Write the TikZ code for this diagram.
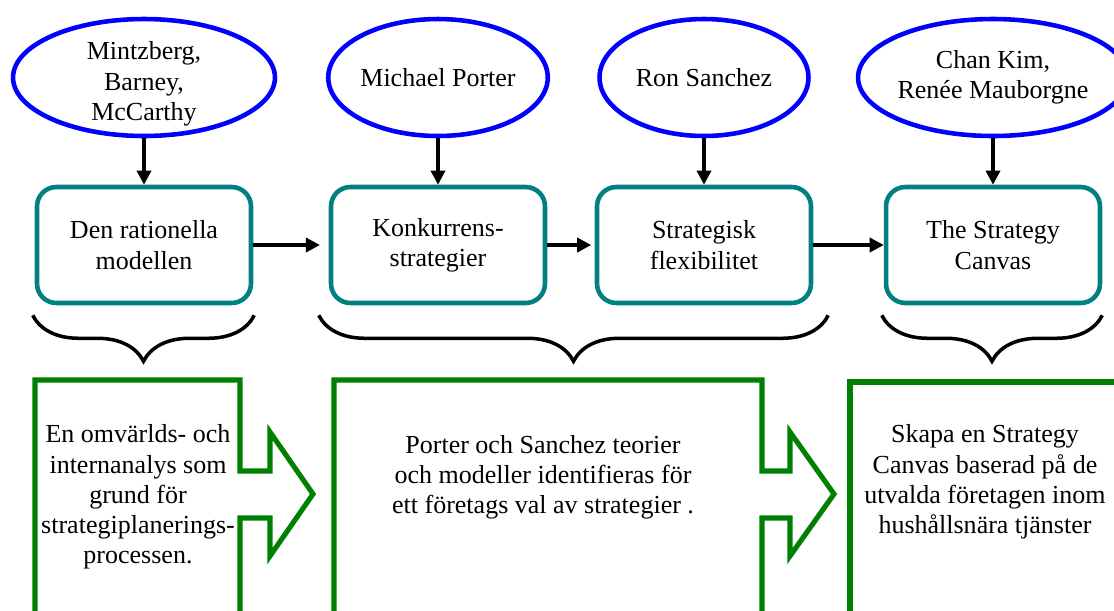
\documentclass[tikz,border=0pt]{standalone}
\usepackage{fontspec}
\setmainfont{Liberation Serif}
\usepackage{tikz}
\usetikzlibrary{shapes,arrows.meta,decorations.pathreplacing}

\begin{document}
\begin{tikzpicture}[x=0.02cm,y=-0.02cm]
    \tikzstyle{every node}=[font=\fontsize{14.8}{17.2}\selectfont, align=center]
    \tikzstyle{author}=[ellipse, draw=blue, line width=2.6pt, minimum width=5.24cm, minimum height=2.34cm, inner sep=0pt]
    \tikzstyle{model}=[rectangle, rounded corners=11pt, draw=teal, line width=2.6pt, minimum width=4.28cm, minimum height=2.32cm]
    \tikzstyle{goal}=[draw=green!50!black, line width=2.9pt]
    \tikzstyle{link}=[-{Triangle[length=8pt,width=8pt]}, line width=1.9pt]
    \tikzstyle{group}=[decorate, decoration={brace, mirror, amplitude=0.92cm}, line width=2pt]
    \useasboundingbox (0,0) rectangle (1114,610);
    \clip (0,0) rectangle (1114,610);

    \node[author, label={[name=mintzbergtext, yshift=-3.6pt]center:Mintzberg,\\Barney,\\McCarthy}] (mintzberg) at (144,77.5) {};
    \node[author, minimum width=4.16cm] (porter) at (438,77.5) {Michael Porter};
    \node[author, minimum width=4.18cm] (sanchez) at (704,77.5) {Ron Sanchez};
    \node[author] (kim) at (993,77.5) {Chan Kim,\\Renée Mauborgne};

    \node[model] (rational) at (144,245) {Den rationella\\modellen};
    \node[model] (competitive) at (438,245) {Konkurrens-\\strategier};
    \node[model] (flexibility) at (704,245) {Strategisk\\flexibilitet};
    \node[model] (canvas) at (993,245) {The Strategy\\Canvas};

    \draw[link] (mintzberg) -- (rational);
    \draw[link] (porter) -- (competitive);
    \draw[link] (sanchez) -- (flexibility);
    \draw[link] (kim) -- (canvas);
    \draw[link, shorten >=5pt] (rational) -- (competitive);
    \draw[link, shorten >=2pt] (competitive) -- (flexibility);
    \draw[link] (flexibility) -- (canvas);

    \draw[group] ([shift={(-2,10)}]rational.south west) -- ([shift={(1,10)}]rational.south east);
    \draw[group] ([shift={(-10,10)}]competitive.south west) -- ([shift={(15,10)}]flexibility.south east);
    \draw[group] ([shift={(-2,10)}]canvas.south west) -- ([shift={(0,10)}]canvas.south east);

    \draw[goal] (35,625) -- (35,380) -- (240,380) -- (240,471) -- (270,471) -- (270,432)
      -- (313,494) -- (270,556) -- (270,518) -- (240,518) -- (240,625) -- cycle;
    \draw[goal] (334,625) -- (334,380) -- (762,380) -- (762,471) -- (790,471) -- (790,432)
      -- (834,494) -- (790,556) -- (790,518) -- (762,518) -- (762,625) -- cycle;
    \draw[goal] (850,625) -- (850,382) -- (1130,382) -- (1130,625) -- cycle;

    \node (analysis) at (138,497) {En omvärlds- och\\internanalys som\\grund för\\strategiplanerings-\\processen.};
    \node (theories) at (543,477) {Porter och Sanchez teorier\\och modeller identifieras för\\ett företags val av strategier .};
    \node (result) at (985,482) {Skapa en Strategy\\Canvas baserad på de\\utvalda företagen inom\\hushållsnära tjänster};
\end{tikzpicture}
\end{document}
